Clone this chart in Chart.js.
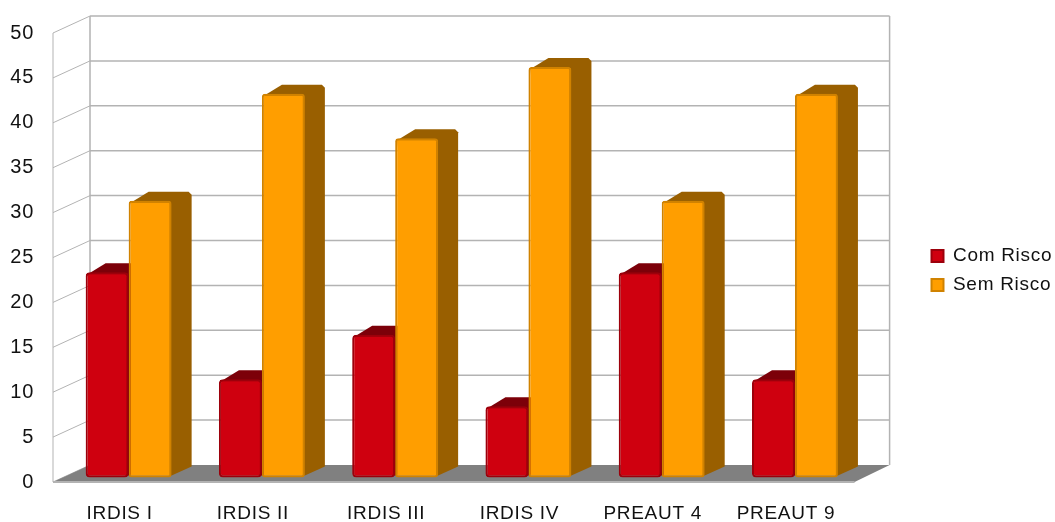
<!DOCTYPE html>
<html>
<head>
<meta charset="utf-8">
<style>
  html, body { margin: 0; padding: 0; background: #fff; }
  #wrap { position: relative; width: 1055px; height: 522px; }
</style>
<script src="https://cdn.jsdelivr.net/npm/chart.js@4/dist/chart.umd.min.js"></script>
</head>
<body>
<div id="wrap"><canvas id="riskChart" width="1055" height="522"></canvas></div>
<script>
const categories = ["IRDIS I", "IRDIS II", "IRDIS III", "IRDIS IV", "PREAUT 4", "PREAUT 9"];
const comRisco = [23, 11, 16, 8, 23, 11];
const semRisco = [31, 43, 38, 46, 31, 43];
const yTicks = [0, 5, 10, 15, 20, 25, 30, 35, 40, 45, 50];

// depth of the box walls and of the bars
const WALL_DX = 37, WALL_DY = -17;
const BAR_DX = 20, BAR_DY = -9;
const BAR_SHIFT = 9;
const FRONT_EXTRA = 2;
const LINE = "#b3b3b3";

function shade(ctx, pts, color) {
  ctx.beginPath();
  pts.forEach((p, i) => i ? ctx.lineTo(p[0], p[1]) : ctx.moveTo(p[0], p[1]));
  ctx.closePath();
  ctx.fillStyle = color;
  ctx.fill();
}

const box3d = {
  id: "box3d",
  afterLayout(chart) {
    // legend block sits a bit higher than the centre of the canvas
    chart.legend.top -= 7;
    chart.legend.bottom -= 7;
    chart.legend.left = 921.5;
  },
  beforeDraw(chart) {
    chart.ctx.letterSpacing = "0.7px";
  },
  // back wall, left wall and floor
  beforeDatasetsDraw(chart) {
    const { ctx, chartArea: a, scales } = chart;
    const y = scales.y;
    const bottom = y.getPixelForValue(0);
    const backLeft = a.left + WALL_DX, backRight = a.right + WALL_DX;
    ctx.save();
    ctx.strokeStyle = LINE;
    yTicks.forEach(t => {
      const py = y.getPixelForValue(t);
      ctx.lineWidth = 1;
      ctx.beginPath();
      ctx.moveTo(a.left, py);
      ctx.lineTo(backLeft, py + WALL_DY);
      ctx.stroke();
      if (t > 0) {
        ctx.lineWidth = 1.5;
        ctx.beginPath();
        ctx.moveTo(backLeft, py + WALL_DY);
        ctx.lineTo(backRight, py + WALL_DY);
        ctx.stroke();
      }
    });
    const top = y.getPixelForValue(50);
    ctx.lineWidth = 1.5;
    ctx.beginPath();
    ctx.moveTo(backLeft, top + WALL_DY);
    ctx.lineTo(backLeft, bottom + WALL_DY);
    ctx.moveTo(backRight, top + WALL_DY);
    ctx.lineTo(backRight, bottom + WALL_DY);
    ctx.stroke();
    ctx.lineWidth = 1;
    ctx.beginPath();
    ctx.moveTo(a.left, top);
    ctx.lineTo(a.left, bottom);
    ctx.stroke();

    shade(ctx, [
      [a.left, bottom],
      [backLeft, bottom + WALL_DY],
      [backRight, bottom + WALL_DY],
      [a.right + FRONT_EXTRA, bottom]
    ], "#808080");
    ctx.lineWidth = 2;
    ctx.beginPath();
    ctx.moveTo(a.left, bottom);
    ctx.lineTo(a.right + FRONT_EXTRA, bottom);
    ctx.stroke();

    // bars sit a little behind the front edge; their faces run under the front
    ctx.translate(BAR_SHIFT, 0);
    chart.data.datasets.forEach((ds, i) => {
      chart.getDatasetMeta(i).data.forEach(bar => {
        const l = bar.x - bar.width / 2, r = bar.x + bar.width / 2;
        const t = bar.y, b = bar.base;
        shade(ctx, [[l + 2, t + 2], [l + BAR_DX, t + BAR_DY], [r + BAR_DX - 3, t + BAR_DY],
          [r + BAR_DX, t + BAR_DY + 3], [r + BAR_DX, b + BAR_DY - 2], [r, b - 2], [r - 3, b - 2]], ds.sideColor);
      });
    });
    ctx.restore();
    ctx.save();
    ctx.translate(BAR_SHIFT, 0);
  },
  afterDatasetsDraw(chart) {
    chart.ctx.restore();
  }
};

new Chart(document.getElementById("riskChart"), {
  type: "bar",
  data: {
    labels: categories,
    datasets: [
      { label: "Com Risco", data: comRisco, yAxisID: "yBars", backgroundColor: "#cf000f",
        borderColor: "#9c000b", borderWidth: 2, borderRadius: 4, borderSkipped: false, sideColor: "#7c0009" },
      { label: "Sem Risco", data: semRisco, yAxisID: "yBars", backgroundColor: "#ff9e00",
        borderColor: "#d08200", borderWidth: 2, borderRadius: 3, borderSkipped: false, sideColor: "#995f00" }
    ]
  },
  plugins: [box3d],
  options: {
    responsive: false,
    animation: false,
    layout: { padding: { top: 33, bottom: 0, left: 0, right: 3 } },
    datasets: { bar: { categoryPercentage: 0.645, barPercentage: 1 } },
    plugins: {
      tooltip: { enabled: false },
      legend: {
        position: "right",
        align: "center",
        labels: {
          boxWidth: 12,
          boxHeight: 12,
          padding: 10,
          color: "#111",
          font: { family: "'Liberation Sans'", size: 19 }
        }
      }
    },
    scales: {
      x: {
        grid: { display: false },
        border: { display: false },
        afterFit(s) { s.height = 40; },
        ticks: { color: "#111", padding: 12, maxRotation: 0, font: { family: "'Liberation Sans'", size: 19 } }
      },
      y: {
        min: 0,
        max: 50,
        afterFit(s) { s.width = 53; },
        afterBuildTicks(s) { s.ticks = yTicks.map(v => ({ value: v })); },
        grid: { display: false },
        border: { display: false },
        ticks: { color: "#111", padding: 11, font: { family: "'Liberation Sans'", size: 20 } }
      },
      // carries the bars: same pixel range as y, with the bar feet lifted off the front edge
      yBars: {
        position: "right",
        min: -0.5,
        max: 49.8,
        afterFit(s) { s.width = 65; },
        grid: { display: false },
        border: { display: false },
        ticks: { display: false }
      }
    }
  }
});
</script>
</body>
</html>
